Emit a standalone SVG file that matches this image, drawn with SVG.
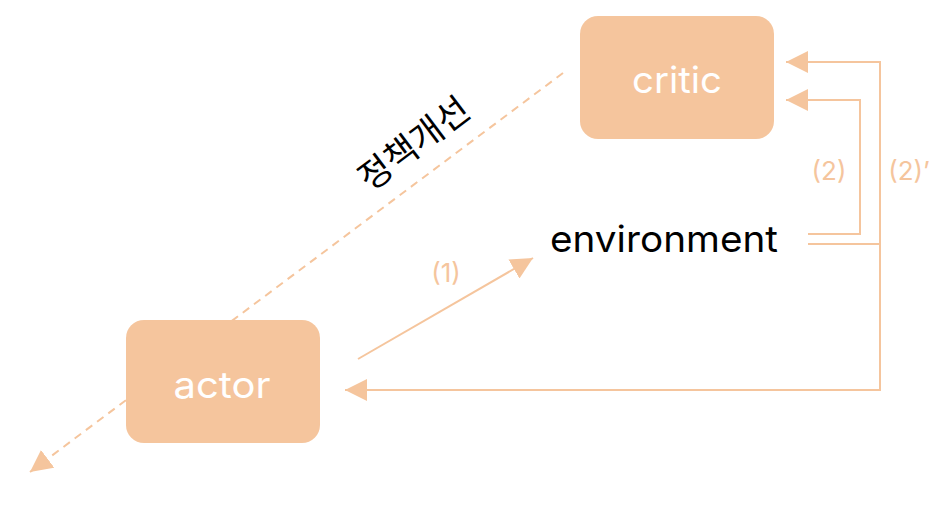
<svg xmlns="http://www.w3.org/2000/svg" width="948" height="514" viewBox="0 0 948 514">
<style>
.node rect{fill:#F5C59D}
.node text{fill:#FFFFFF;font-family:Inter,"Noto Sans","Liberation Sans",sans-serif;font-size:37px;text-anchor:middle}
.conn{fill:none;stroke:#F5C59D;stroke-width:2}
.dash{stroke-dasharray:8 6}
.lbl{fill:#F5C59D;font-family:Inter,"Noto Sans","Liberation Sans",sans-serif;font-size:26px;text-anchor:middle}
</style>
<defs>
<marker id="ah" markerUnits="userSpaceOnUse" markerWidth="22" markerHeight="22" refX="22" refY="11" orient="auto" viewBox="0 0 22 22">
<path d="M0,0 L22,11 L0,22 z" fill="#F5C59D"/>
</marker>
</defs>
<rect width="948" height="514" fill="#FFFFFF"/>
<g id="connectors">
<path class="conn dash" d="M563,73 L30,472" marker-end="url(#ah)"/>
<path class="conn" d="M358,359 L533,258" marker-end="url(#ah)"/>
<path class="conn" d="M808,234 H860 V100 H786" marker-end="url(#ah)"/>
<path class="conn" d="M808,244 H880 V62 H786" marker-end="url(#ah)"/>
<path class="conn" d="M880,244 V390 H345" marker-end="url(#ah)"/>
<text class="lbl" x="446" y="282">(1)</text>
<text class="lbl" x="829" y="180">(2)</text>
<text class="lbl" x="909" y="180">(2)’</text>
<text transform="translate(412,141) rotate(-37)" text-anchor="middle" dominant-baseline="central" font-family="'Noto Sans CJK KR',sans-serif" font-size="35" fill="#000000">정책개선</text>
</g>
<g id="critic" class="node">
<rect x="580" y="16" width="194" height="123" rx="18"/>
<text x="677" y="93" textLength="90" lengthAdjust="spacingAndGlyphs">critic</text>
</g>
<g id="actor" class="node">
<rect x="126" y="320" width="194" height="123" rx="18"/>
<text x="222" y="398" textLength="97" lengthAdjust="spacingAndGlyphs">actor</text>
</g>
<g id="environment">
<text x="664" y="252" text-anchor="middle" font-family="Inter,'Noto Sans','Liberation Sans',sans-serif" font-size="37" fill="#000000" textLength="228" lengthAdjust="spacingAndGlyphs">environment</text>
</g>
</svg>
